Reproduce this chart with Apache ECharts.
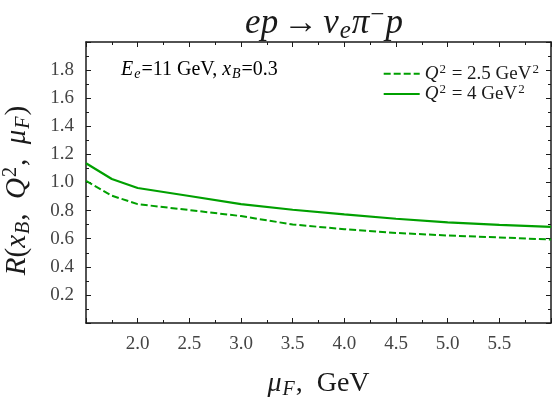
<!DOCTYPE html>
<html>
<head>
<meta charset="utf-8">
<title>R vs muF</title>
<script src="https://cdn.jsdelivr.net/npm/echarts@6/dist/echarts.min.js"></script>
<style>
  html, body { margin: 0; padding: 0; background: #fff; }
  #chart { width: 554px; height: 397px; }
</style>
</head>
<body>
<div id="chart"></div>
<script>
    // values
    var muF = [1.5, 1.75, 2.0, 2.5, 3.0, 3.5, 4.0, 4.5, 5.0, 5.5, 6.0];
    var rQ25 = [1.011, 0.906, 0.846, 0.804, 0.761, 0.701, 0.668, 0.641, 0.623, 0.609, 0.594];
    var rQ4 = [1.137, 1.025, 0.961, 0.904, 0.846, 0.806, 0.773, 0.742, 0.716, 0.699, 0.684];
    var seriesNames = ['Q2=2.5', 'Q2=4'];
    var legendLabels = ['{i|Q}{sup|2}{n| = 2.5 GeV}{sup|2}', '{i|Q}{sup|2}{n| = 4 GeV}{sup|2}'];

    var serif = 'Liberation Serif';
    var green = '#00a000';
    var ink = '#1a1a1a';

    function pairs(xs, ys) {
        var out = [];
        for (var i = 0; i < xs.length; i++) out.push([xs[i], ys[i]]);
        return out;
    }

    function richSet(size) {
        var base = { fontFamily: serif, fontSize: size, fontWeight: 'normal', color: ink };
        return {
            n: base,
            i: Object.assign({}, base, { fontStyle: 'italic' }),
            sub: Object.assign({}, base, { fontSize: Math.round(size * 0.7), fontStyle: 'italic', padding: [size * 0.45, 1, 0, 1] }),
            sup: Object.assign({}, base, { fontSize: Math.round(size * 0.7), padding: [0, 1, size * 0.45, 1] })
        };
    }

    function frameAxis(extra) {
        return Object.assign({
            type: 'value',
            axisLine: { onZero: false, lineStyle: { color: ink, width: 1.5 } },
            axisTick: { inside: true, length: 5, lineStyle: { color: ink } },
            minorTick: { show: true, splitNumber: 2, length: 3, lineStyle: { color: ink } },
            splitLine: { show: false }
        }, extra);
    }

    var tickLabel = {
        showMinLabel: false, showMaxLabel: false,
        margin: 12,
        fontFamily: serif, fontSize: 19, color: '#444',
        formatter: function (v) { return v.toFixed(1); }
    };

    var chart = echarts.init(document.getElementById('chart'), null, { renderer: 'canvas' });

    var option = {
        animation: false,
        title: {
            text: '{i|ep} {n|→} {i|ν}{sub|e}{i|π}{sup|−}{i|p}',
            left: 319,
            textAlign: 'center',
            top: -2,
            textStyle: { rich: richSet(35) }
        },
        grid: { left: 86, right: 3, top: 42, bottom: 74, outerBoundsMode: 'none' },
        legend: {
            right: 10,
            top: 58,
            orient: 'vertical',
            itemWidth: 36,
            itemHeight: 10,
            itemGap: 0,
            data: seriesNames,
            itemStyle: { opacity: 0 },
            formatter: function (name) {
                return legendLabels[seriesNames.indexOf(name)];
            },
            textStyle: { rich: richSet(19) }
        },
        xAxis: [frameAxis({
            min: 1.5, max: 6.0, interval: 0.5,
            name: '{i|μ}{sub|F}{n|,  GeV}',
            nameLocation: 'middle',
            nameGap: 44,
            nameTextStyle: { rich: richSet(28) },
            axisLabel: tickLabel
        }), frameAxis({
            position: 'top',
            min: 1.5, max: 6.0, interval: 0.5,
            axisLabel: { show: false }
        })],
        yAxis: [frameAxis({
            min: 0, max: 2.0, interval: 0.2,
            name: '{i|R}{n|(}{i|x}{sub|B}{n|,  }{i|Q}{sup|2}{n|,  }{i|μ}{sub|F}{n|)}',
            nameLocation: 'middle',
            nameGap: 52,
            nameTextStyle: { rich: richSet(29), padding: [0, 16, 0, 0] },
            axisLabel: tickLabel
        }), frameAxis({
            position: 'right',
            min: 0, max: 2.0, interval: 0.2,
            axisLabel: { show: false }
        })],
        graphic: [{
            type: 'text',
            left: 121,
            top: 60,
            style: {
                text: '{i|E}{sub|e}{n|=11 GeV, }{i|x}{sub|B}{n|=0.3}',
                rich: richSet(20)
            }
        }],
        series: [{
            name: seriesNames[0],
            type: 'line',
            data: pairs(muF, rQ25),
            symbol: 'none',
            lineStyle: { color: green, width: 2, type: [7, 3] },
            itemStyle: { color: green }
        }, {
            name: seriesNames[1],
            type: 'line',
            data: pairs(muF, rQ4),
            symbol: 'none',
            lineStyle: { color: green, width: 2.2 },
            itemStyle: { color: green }
        }]
    };

    chart.setOption(option);
</script>
</body>
</html>
